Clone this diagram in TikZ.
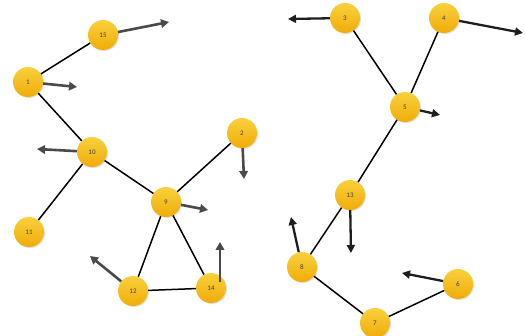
\documentclass[tikz,border=0pt]{standalone}
\usepackage{fontspec}
\setmainfont{Carlito}
\usetikzlibrary{arrows.meta,shadows}
\definecolor{ballA}{HTML}{F9D03C}
\definecolor{ballB}{HTML}{F0AC08}
\definecolor{vecgray}{HTML}{4A4A4A}
\definecolor{vecdark}{HTML}{1E1E1E}
\tikzset{
  ball/.style={circle, minimum size=30pt, inner sep=0pt, top color=ballA, bottom color=ballB,
    font=\fontsize{7}{8}\selectfont, text=black!75,
    drop shadow={opacity=0.25, shadow xshift=1pt, shadow yshift=-1pt}},
  link/.style={line width=1.5pt, black},
  vec/.style={line width=2.6pt, vecgray, -{Triangle[length=8pt,width=8.5pt]}},
  vecd/.style={line width=2.3pt, vecdark, -{Triangle[length=8pt,width=8pt]}}
}
\begin{document}
\begin{tikzpicture}[x=1pt,y=-1pt]
\useasboundingbox (0,0) rectangle (525,336);
\coordinate (p15) at (103,35);
\coordinate (p1) at (28,82);
\coordinate (p10) at (92,152);
\coordinate (p2) at (242,133);
\coordinate (p9) at (166,202);
\coordinate (p11) at (29,232);
\coordinate (p12) at (133,291);
\coordinate (p14) at (211,288);
\coordinate (p3) at (345,18);
\coordinate (p4) at (444,18);
\coordinate (p5) at (405,107);
\coordinate (p13) at (350,195);
\coordinate (p8) at (302,267);
\coordinate (p6) at (458,284);
\coordinate (p7) at (375,323);
\node[ball] (n15) at (p15) {15};
\node[ball] (n1) at (p1) {1};
\node[ball] (n10) at (p10) {10};
\node[ball] (n2) at (p2) {2};
\node[ball] (n9) at (p9) {9};
\node[ball] (n11) at (p11) {11};
\node[ball] (n12) at (p12) {12};
\node[ball] (n14) at (p14) {14};
\node[ball] (n3) at (p3) {3};
\node[ball] (n4) at (p4) {4};
\node[ball] (n5) at (p5) {5};
\node[ball] (n13) at (p13) {13};
\node[ball] (n8) at (p8) {8};
\node[ball] (n6) at (p6) {6};
\node[ball] (n7) at (p7) {7};
% connectors
\draw[link] (n15) -- (n1);
\draw[link] (n1) -- (n10);
\draw[link] (n10) -- (n11);
\draw[link] (n10) -- (n9);
\draw[link] (n9) -- (n2);
\draw[link] (n9) -- (n12);
\draw[link] (n9) -- (n14);
\draw[link] (n12) -- (n14);
\draw[link] (n3) -- (n5);
\draw[link] (n4) -- (n5);
\draw[link] (n5) -- (n13);
\draw[link] (n13) -- (n8);
\draw[link] (n8) -- (n7);
\draw[link] (n7) -- (n6);
% vectors
\coordinate (e15) at (169,22);
\coordinate (e1) at (77,87);
\coordinate (e10) at (37,149);
\coordinate (e2) at (244,179);
\coordinate (e9) at (208,210);
\coordinate (e12) at (90,256);
\coordinate (s14) at (220,282);
\coordinate (e14) at (220,242);
\coordinate (e3) at (288,19);
\coordinate (e4) at (523,33);
\coordinate (e5) at (440,115);
\coordinate (e13) at (351,253);
\coordinate (e8) at (291,217);
\coordinate (e6) at (402,273);
\draw[vec] (n15) -- (e15);
\draw[vec] (n1) -- (e1);
\draw[vec] (n10) -- (e10);
\draw[vec] (n2) -- (e2);
\draw[vec] (n9) -- (e9);
\draw[vec] (n12) -- (e12);
\draw[vec] (s14) -- (e14);
\draw[vecd] (n3) -- (e3);
\draw[vecd] (n4) -- (e4);
\draw[vecd] (n5) -- (e5);
\draw[vecd] (n13) -- (e13);
\draw[vecd] (n8) -- (e8);
\draw[vecd] (n6) -- (e6);
\end{tikzpicture}
\end{document}
